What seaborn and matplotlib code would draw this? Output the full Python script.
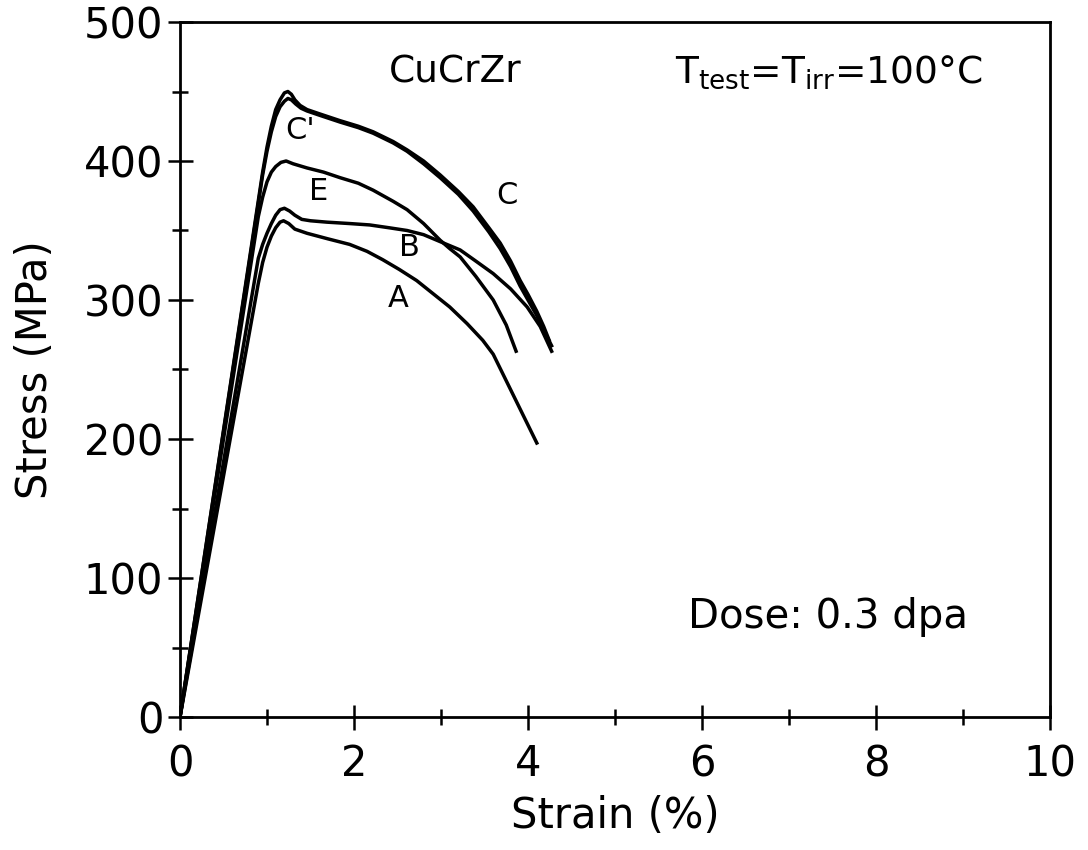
import matplotlib
matplotlib.use("Agg")
import matplotlib.pyplot as plt
import numpy as np
import pandas as pd
import seaborn as sns
from matplotlib.ticker import MultipleLocator

# Engineering stress-strain curves, CuCrZr irradiated to 0.3 dpa, tested at 100 C
strain_c1 = [0, 0.95, 1.00, 1.05, 1.10, 1.15, 1.20, 1.24, 1.28, 1.32, 1.38, 1.46, 1.60,
             1.84, 2.05, 2.22, 2.45, 2.61, 2.80, 2.99, 3.20, 3.37, 3.55, 3.68, 3.80,
             3.91, 4.00, 4.10, 4.18, 4.25]
stress_c1 = [0, 392, 410, 425, 437, 444, 449, 450, 448, 444, 440, 437, 434,
             429, 425, 421, 414, 408, 400, 390, 378, 367, 352, 341, 328,
             314, 304, 292, 281, 270]

strain_c2 = [0, 0.95, 1.00, 1.05, 1.10, 1.15, 1.20, 1.24, 1.28, 1.33, 1.39, 1.46, 1.60,
             1.84, 2.05, 2.22, 2.45, 2.61, 2.80, 2.99, 3.20, 3.37, 3.55, 3.68, 3.80,
             3.91, 4.00, 4.10, 4.20, 4.28]
stress_c2 = [0, 390, 407, 421, 432, 439, 443, 445, 444, 441, 438, 436, 433,
             428, 424, 420, 413, 407, 398, 388, 376, 364, 349, 337, 324,
             310, 300, 289, 276, 266]

strain_e = [0, 0.90, 0.95, 1.00, 1.05, 1.10, 1.16, 1.22, 1.30, 1.46, 1.65, 1.84, 2.05,
            2.22, 2.45, 2.61, 2.80, 2.99, 3.10, 3.22, 3.40, 3.60, 3.75, 3.87]
stress_e = [0, 360, 374, 385, 392, 396, 399, 400, 398, 395, 392, 388, 384,
            379, 371, 365, 355, 343, 337, 331, 317, 300, 282, 262]

strain_b = [0, 0.90, 0.95, 1.00, 1.05, 1.10, 1.15, 1.20, 1.26, 1.32, 1.40, 1.50, 1.69,
            1.95, 2.18, 2.40, 2.61, 2.80, 2.99, 3.22, 3.40, 3.60, 3.80, 3.99, 4.14, 4.28]
stress_b = [0, 330, 340, 348, 355, 361, 365, 366, 364, 361, 358, 357, 356,
            355, 354, 352, 350, 347, 342, 336, 328, 319, 308, 295, 281, 262]

strain_a = [0, 0.90, 0.95, 1.00, 1.05, 1.10, 1.15, 1.19, 1.25, 1.32, 1.46, 1.70, 1.95,
            2.15, 2.33, 2.52, 2.72, 2.90, 3.10, 3.30, 3.48, 3.60, 4.11]
stress_a = [0, 312, 327, 338, 346, 352, 356, 357, 355, 351, 348, 344, 340,
            335, 329, 322, 314, 305, 295, 283, 271, 261, 196]

curve_names = ["C", "C'", "E", "B", "A"]
curve_strain = [strain_c1, strain_c2, strain_e, strain_b, strain_a]
curve_stress = [stress_c1, stress_c2, stress_e, stress_b, stress_a]

# Curve labels and their positions (strain %, stress MPa)
label_text = ["C'", "E", "B", "A", "C"]
label_x = [1.38, 1.59, 2.64, 2.51, 3.76]
label_y = [422, 378, 338, 301, 375]

x_ticks = [0, 2, 4, 6, 8, 10]
y_ticks = [0, 100, 200, 300, 400, 500]

df = pd.concat(
    [pd.DataFrame({"strain": s, "stress": t, "specimen": n})
     for n, s, t in zip(curve_names, curve_strain, curve_stress)],
    ignore_index=True,
)

sns.set_theme(style="white")
plt.rcParams["font.family"] = ["DejaVu Sans"]
plt.rcParams["mathtext.fontset"] = "dejavusans"

fig = plt.figure(figsize=(10.88, 8.5), dpi=100)
ax = fig.add_axes([180 / 1088, 1 - 717 / 850, 870 / 1088, 695 / 850])

sns.lineplot(data=df, x="strain", y="stress", units="specimen", estimator=None,
             sort=False, color="black", linewidth=2.5, ax=ax, legend=False)
for line in ax.get_lines():
    line.set_solid_joinstyle("round")
    line.set_solid_capstyle("butt")

ax.set_xlim(0, 10)
ax.set_ylim(0, 500)
ax.set_xticks(x_ticks)
ax.set_yticks(y_ticks)
ax.set_xticklabels([str(v) for v in x_ticks])
ax.set_yticklabels([str(v) for v in y_ticks])
ax.xaxis.set_minor_locator(MultipleLocator(1))
ax.yaxis.set_minor_locator(MultipleLocator(50))

for side in ["left", "right", "top", "bottom"]:
    ax.spines[side].set_visible(True)
    ax.spines[side].set_color("black")
    ax.spines[side].set_linewidth(2.0)

ax.tick_params(which="major", direction="inout", length=18, width=1.8,
               colors="black", labelsize=30)
ax.tick_params(axis="x", which="major", pad=10)
ax.tick_params(axis="y", which="major", pad=3)
ax.tick_params(which="minor", direction="inout", length=12, width=1.8, colors="black")
ax.tick_params(bottom=True, left=True, top=False, right=False, which="both")

ax.set_xlabel("Strain (%)", fontsize=30, color="black")
ax.set_ylabel("Stress (MPa)", fontsize=30, color="black")
ax.xaxis.set_label_coords(0.5, -0.112)
ax.yaxis.set_label_coords(-0.143, 0.5)

for t, x, y in zip(label_text, label_x, label_y):
    ax.text(x, y, t, fontsize=22, ha="center", va="center", color="black")

ax.text(3.16, 464, "CuCrZr", fontsize=27, ha="center", va="center", color="black")
ax.text(7.46, 464, r"T$_{\mathrm{test}}$=T$_{\mathrm{irr}}$=100°C", fontsize=27,
        ha="center", va="center", color="black")
ax.text(7.45, 72, "Dose: 0.3 dpa", fontsize=29, ha="center", va="center", color="black")

fig.savefig("out.png", dpi=100, facecolor="white")
